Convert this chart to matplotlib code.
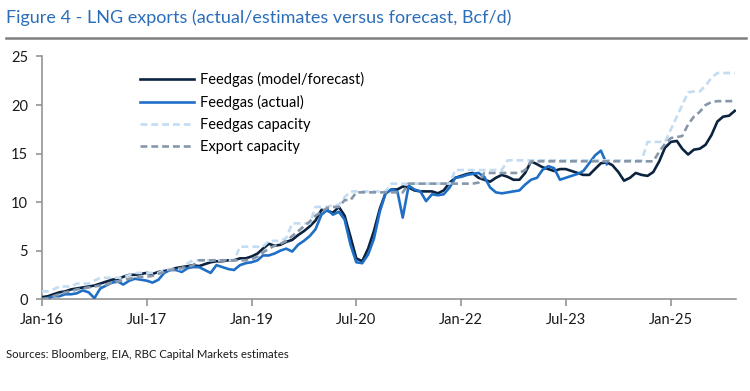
import matplotlib
matplotlib.use('Agg')
import matplotlib.pyplot as plt
from matplotlib.lines import Line2D
import pandas as pd

plt.rcParams['font.family'] = ['Lato', 'DejaVu Sans']

# monthly values, Jan-16 .. Dec-25 (Bcf/d)
dates = pd.date_range('2016-01-01', periods=120, freq='MS')

model = [0.2, 0.3, 0.5, 0.7, 0.8, 1.0, 1.1, 1.2, 1.3, 1.4, 1.6, 1.8,
         2.0, 2.1, 2.3, 2.5, 2.5, 2.6, 2.7, 2.6, 2.8, 2.9, 3.0, 3.2,
         3.3, 3.4, 3.5, 3.4, 3.6, 3.8, 3.9, 3.9, 4.0, 4.0, 4.2, 4.2,
         4.4, 4.7, 5.2, 5.7, 5.5, 5.6, 5.9, 6.1, 6.6, 7.0, 7.5, 8.1,
         9.2, 9.1, 8.9, 9.5, 8.6, 6.4, 4.2, 3.9, 5.2, 7.0, 9.3, 10.9,
         11.3, 11.3, 11.6, 11.5, 11.2, 11.1, 11.1, 11.1, 10.9, 11.2, 12.0, 12.5,
         12.7, 12.9, 13.0, 12.5, 12.3, 12.1, 12.5, 12.8, 12.6, 12.3, 12.3, 13.0,
         14.2, 13.9, 13.6, 13.4, 13.2, 13.4, 13.4, 13.2, 13.0, 12.8, 12.8, 13.4,
         14.0, 14.1, 13.8, 13.1, 12.2, 12.5, 13.0, 12.8, 12.7, 13.1, 14.2, 15.6,
         16.2, 16.3, 15.5, 14.9, 15.4, 15.5, 15.9, 16.9, 18.3, 18.8, 18.9, 19.4]

actual = [0.0, 0.1, 0.3, 0.3, 0.5, 0.5, 0.6, 0.9, 0.7, 0.1, 1.1, 1.4,
          1.7, 1.8, 1.5, 1.9, 2.1, 2.0, 1.9, 1.7, 2.0, 2.7, 3.0, 3.0,
          2.8, 3.2, 3.3, 3.3, 3.0, 2.7, 3.5, 3.3, 3.1, 3.0, 3.5, 3.7,
          3.8, 4.0, 4.5, 4.5, 4.7, 5.0, 5.2, 4.9, 5.6, 6.0, 6.5, 7.2,
          8.7, 9.2, 8.7, 9.0, 8.2, 5.6, 3.8, 3.7, 4.6, 6.2, 9.0, 10.9,
          11.3, 11.1, 8.4, 11.7, 11.3, 11.1, 10.1, 10.8, 10.7, 10.8, 11.5, 12.5,
          12.6, 12.8, 12.9, 13.0, 12.6, 11.5, 11.0, 10.9, 11.0, 11.1, 11.2, 11.8,
          12.3, 12.5, 13.3, 13.7, 13.5, 12.3, 12.5, 12.7, 12.9, 13.2, 14.0, 14.8,
          15.3, 13.9]

feedgas_cap = [0.8, 0.8, 1.0, 1.3, 1.3, 1.3, 1.6, 1.6, 1.6, 1.9, 2.2, 2.2,
               2.2, 2.2, 2.2, 2.5, 2.7, 2.7, 2.7, 2.7, 2.7, 3.0, 3.1, 3.1,
               3.1, 3.7, 4.0, 4.0, 4.0, 4.0, 4.0, 4.0, 4.0, 4.0, 5.4, 5.4,
               5.4, 5.4, 5.4, 6.0, 6.0, 6.0, 6.3, 7.8, 7.8, 7.8, 7.8, 9.5,
               9.5, 9.5, 9.7, 9.7, 10.5, 11.1, 11.1, 11.1, 11.1, 11.1, 11.1, 11.1,
               11.9, 11.9, 11.9, 11.9, 11.9, 11.9, 11.9, 11.9, 11.9, 11.9, 11.9, 13.3,
               13.3, 13.3, 13.3, 13.3, 13.3, 13.3, 13.3, 13.3, 14.3, 14.3, 14.3, 14.3,
               14.3, 14.3, 14.3, 14.3, 14.3, 14.3, 14.3, 14.3, 14.3, 14.3, 14.3, 14.3,
               14.3, 14.3, 14.3, 14.3, 14.3, 14.3, 14.3, 14.3, 16.2, 16.2, 16.2, 16.2,
               17.5, 18.8, 20.0, 21.3, 21.4, 21.4, 22.0, 22.8, 23.3, 23.3, 23.3, 23.3]

export_cap = [0.0, 0.1, 0.3, 0.5, 0.7, 0.8, 1.0, 1.1, 1.2, 1.3, 1.4, 1.5,
              1.7, 1.8, 2.0, 2.1, 2.2, 2.3, 2.3, 2.4, 2.6, 2.8, 3.0, 3.1,
              3.2, 3.3, 3.5, 4.0, 4.0, 4.0, 4.0, 4.0, 4.0, 4.0, 4.0, 4.0,
              4.1, 4.4, 4.8, 5.2, 5.5, 5.7, 6.0, 6.5, 7.0, 7.5, 8.0, 8.6,
              9.0, 9.4, 9.5, 9.5, 10.2, 10.2, 11.0, 11.0, 11.0, 11.0, 11.0, 11.0,
              11.0, 11.0, 11.0, 11.9, 11.9, 11.9, 11.9, 11.9, 11.9, 11.9, 11.9, 11.9,
              11.9, 11.9, 11.9, 12.0, 13.0, 13.0, 13.0, 13.0, 13.0, 13.0, 13.0, 13.3,
              14.2, 14.2, 14.2, 14.2, 14.2, 14.2, 14.2, 14.2, 14.2, 14.2, 14.2, 14.2,
              14.2, 14.2, 14.2, 14.2, 14.2, 14.2, 14.2, 14.2, 14.2, 14.2, 15.2, 16.0,
              16.6, 16.7, 16.8, 18.0, 18.8, 19.3, 20.0, 20.3, 20.4, 20.4, 20.4, 20.4]

tick_dates = ['2016-01-01', '2017-07-01', '2019-01-01', '2020-07-01',
              '2022-01-01', '2023-07-01', '2025-01-01']
tick_labels = ['Jan-16', 'Jul-17', 'Jan-19', 'Jul-20', 'Jan-22', 'Jul-23', 'Jan-25']

fig = plt.figure(figsize=(7.5, 3.91), dpi=100)
ax = fig.add_axes([0.056, 0.235, 0.925, 0.6205])

ax.plot(dates, model, color='#0c2340', lw=1.9, label='Feedgas (model/forecast)', zorder=3)
ax.plot(dates[:len(actual)], actual, color='#1f6fc6', lw=1.9, label='Feedgas (actual)', zorder=4)
ax.plot(dates, feedgas_cap, color='#c3dcf2', lw=1.9, dashes=(2.6, 1.5),
        label='Feedgas capacity', zorder=5)
ax.plot(dates, export_cap, color='#8797aa', lw=1.9, dashes=(2.6, 1.5),
        label='Export capacity', zorder=6)

ax.set_ylim(0, 25)
ax.set_yticks([0, 5, 10, 15, 20, 25])
ax.set_xlim(dates[0], dates[-1] + pd.Timedelta(days=5))
ax.set_xticks(pd.to_datetime(tick_dates))
ax.set_xticklabels(tick_labels)

for s in ['top', 'right']:
    ax.spines[s].set_visible(False)
for s in ['left', 'bottom']:
    ax.spines[s].set_color('#8c8c8c')
    ax.spines[s].set_linewidth(1.1)
ax.tick_params(axis='both', colors='#8c8c8c', labelcolor='#1a1a1a', labelsize=10.5)
ax.tick_params(axis='y', length=4, width=1.1, pad=6)
ax.tick_params(axis='x', length=5, width=1.1, pad=5)

ax.legend(loc='upper left', bbox_to_anchor=(140 / 750, 1 - 72 / 391),
          bbox_transform=fig.transFigure, frameon=False, fontsize=10.5,
          handlelength=3.7, handletextpad=0.4, labelspacing=0.55,
          borderpad=0, borderaxespad=0)

fig.text(6 / 750, 1 - 18 / 391, 'Figure 4 - LNG exports (actual/estimates versus forecast, Bcf/d)',
         color='#2a6ebb', fontsize=13, va='center', ha='left')
fig.add_artist(Line2D([6 / 750, 746 / 750], [1 - 38 / 391] * 2, color='#7f7f7f',
                      lw=1.8, transform=fig.transFigure))
fig.text(6 / 750, 1 - 354 / 391, 'Sources: Bloomberg, EIA, RBC Capital Markets estimates',
         color='#1a1a1a', fontsize=8.2, va='center', ha='left')

fig.savefig('out.png', dpi=100)
